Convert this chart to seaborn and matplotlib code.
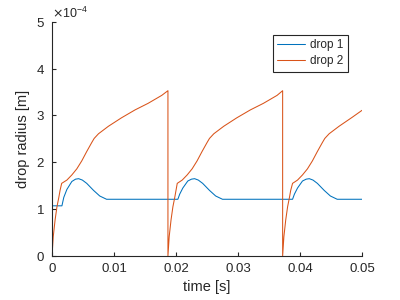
import matplotlib
matplotlib.use("Agg")
import matplotlib.pyplot as plt  # noqa: E402
import matplotlib.ticker as mticker  # noqa: E402
import pandas as pd  # noqa: E402
import seaborn as sns  # noqa: E402

# drop 1 (blue): time [s] and radius [x1e-4 m]
t_drop1 = [0.0002, 0.0016, 0.0019, 0.0024, 0.0032, 0.0038, 0.0043, 0.0049, 0.0056, 0.0067, 0.0077, 0.0088,
           0.0203, 0.0206, 0.0211, 0.0219, 0.0225, 0.0230, 0.0236, 0.0243, 0.0254, 0.0264, 0.0275,
           0.0388, 0.0391, 0.0396, 0.0404, 0.0410, 0.0415, 0.0421, 0.0428, 0.0439, 0.0449, 0.0460, 0.0500]
r_drop1 = [1.07, 1.07, 1.25, 1.42, 1.59, 1.64, 1.65, 1.62, 1.55, 1.40, 1.28, 1.21,
           1.21, 1.32, 1.45, 1.60, 1.64, 1.65, 1.62, 1.55, 1.40, 1.28, 1.21,
           1.21, 1.32, 1.45, 1.60, 1.64, 1.65, 1.62, 1.55, 1.40, 1.28, 1.21, 1.21]

# drop 2 (orange)
t_drop2 = [0.0, 0.0, 0.0002, 0.0005, 0.0008, 0.0011, 0.0013, 0.00156,
           0.0024, 0.0032, 0.0040, 0.0048, 0.0056, 0.0064, 0.0068, 0.0075, 0.0091, 0.0112, 0.0134, 0.0155,
           0.0177, 0.0187,
           0.0187, 0.0189, 0.0192, 0.0195, 0.0198, 0.0200, 0.0202,
           0.0210, 0.0218, 0.0226, 0.0234, 0.0242, 0.0250, 0.0254, 0.0261, 0.0277, 0.0298, 0.0320, 0.0341,
           0.0363, 0.0372,
           0.0372, 0.0374, 0.0377, 0.0380, 0.0383, 0.0385, 0.0388,
           0.0396, 0.0404, 0.0412, 0.0420, 0.0428, 0.0436, 0.0440, 0.0447, 0.0463, 0.0484, 0.0500]
r_drop2 = [5.0, 0.0, 0.41, 0.77, 1.05, 1.25, 1.40, 1.55,
           1.62, 1.73, 1.86, 2.03, 2.23, 2.42, 2.51, 2.61, 2.77, 2.95, 3.12, 3.26,
           3.43, 3.53,
           0.0, 0.41, 0.77, 1.05, 1.25, 1.40, 1.55,
           1.62, 1.73, 1.86, 2.03, 2.23, 2.42, 2.51, 2.61, 2.77, 2.95, 3.12, 3.26,
           3.43, 3.53,
           0.0, 0.41, 0.77, 1.05, 1.25, 1.40, 1.55,
           1.62, 1.73, 1.86, 2.03, 2.23, 2.42, 2.51, 2.61, 2.77, 2.96, 3.11]

df = pd.concat([
    pd.DataFrame({"time": t_drop1, "radius": [r * 1e-4 for r in r_drop1], "drop": "drop 1"}),
    pd.DataFrame({"time": t_drop2, "radius": [r * 1e-4 for r in r_drop2], "drop": "drop 2"}),
], ignore_index=True)

sns.set_style("ticks")
plt.rcParams["font.family"] = ["Liberation Sans", "DejaVu Sans"]
plt.rcParams["axes.unicode_minus"] = False
text_color = "#262626"

fig = plt.figure(figsize=(4, 3), dpi=100)
ax = fig.add_axes([0.13, 0.147, 0.775, 0.78])

sns.lineplot(
    data=df, x="time", y="radius", hue="drop", sort=False, estimator=None,
    palette={"drop 1": "#0072BD", "drop 2": "#D95319"}, linewidth=0.75, ax=ax,
)

ax.set_xlim(0, 0.05)
ax.set_ylim(0, 5e-4)
ax.set_xticks([0, 0.01, 0.02, 0.03, 0.04, 0.05])
ax.xaxis.set_major_formatter(mticker.FuncFormatter(lambda v, p: f"{v:g}"))
ax.set_yticks([0, 1e-4, 2e-4, 3e-4, 4e-4, 5e-4])
fmt = mticker.ScalarFormatter(useMathText=True)
fmt.set_powerlimits((0, 0))
ax.yaxis.set_major_formatter(fmt)
ax.yaxis.get_offset_text().set_fontsize(9)
ax.yaxis.get_offset_text().set_color(text_color)

ax.tick_params(direction="in", length=3, width=0.8, colors=text_color, labelsize=9.5, pad=5)
sns.despine(ax=ax)
for side in ["left", "bottom"]:
    ax.spines[side].set_color(text_color)
    ax.spines[side].set_linewidth(0.8)

ax.set_xlabel("time [s]", fontsize=10.5, color=text_color)
ax.set_ylabel("drop radius [m]", fontsize=10.5, color=text_color)

leg = ax.legend(
    loc="upper right", bbox_to_anchor=(0.955, 0.944), borderaxespad=0,
    fancybox=False, fontsize=8.5, handlelength=2.4, handletextpad=0.4,
    labelspacing=0.3, borderpad=0.38, framealpha=1,
)
leg.get_frame().set_edgecolor(text_color)
leg.get_frame().set_linewidth(0.8)

fig.savefig("out.png", dpi=100)
